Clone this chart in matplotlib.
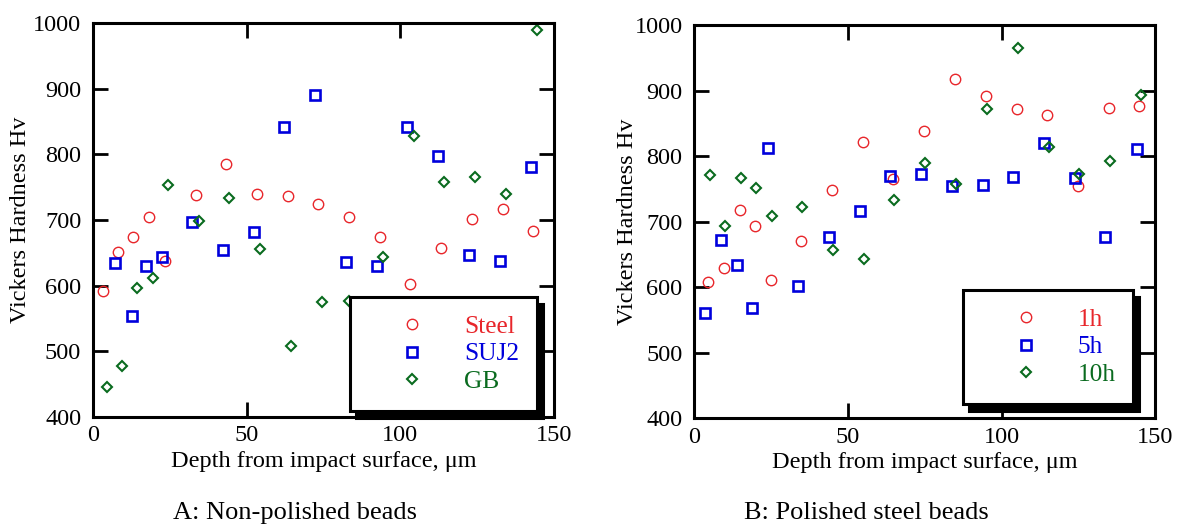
import matplotlib
matplotlib.use('Agg')
import matplotlib.pyplot as plt
from matplotlib.patches import Shadow

plt.rcParams['font.family'] = ['Liberation Serif', 'DejaVu Serif']

# A: non-polished beads (depth in um, hardness Hv)
depth_steel = [3.4, 8.2, 13.1, 18.2, 23.4, 33.4, 43.3, 53.3, 63.4, 73.3, 83.2, 93.3, 103.2, 113.2, 123.2, 133.4, 143.2]
hv_steel = [592, 652, 674, 705, 638, 738, 786, 740, 737, 724, 704, 674, 602, 657, 702, 717, 684]
depth_suj2 = [7.0, 12.6, 17.1, 22.4, 32.3, 42.2, 52.4, 62.2, 72.2, 82.3, 92.4, 102.1, 112.2, 122.4, 132.3, 142.4]
hv_suj2 = [635, 554, 630, 643, 697, 654, 682, 842, 890, 636, 630, 842, 798, 647, 637, 780]
depth_gb = [4.5, 9.5, 14.2, 19.4, 24.5, 34.4, 44.4, 54.4, 64.4, 74.4, 83.4, 94.3, 104.4, 114.3, 124.3, 134.3, 144.4]
hv_gb = [446, 478, 596, 612, 754, 698, 734, 656, 508, 575, 576, 643, 828, 758, 765, 739, 989]

# B: polished steel beads, by peening time
depth_1h = [4.6, 9.7, 14.8, 19.8, 25.0, 34.8, 44.8, 54.9, 64.8, 74.8, 84.8, 94.8, 104.9, 114.9, 124.9, 134.9, 144.8]
hv_1h = [608, 630, 718, 694, 611, 671, 748, 822, 765, 839, 918, 892, 872, 863, 754, 874, 877]
depth_5h = [3.6, 8.7, 13.8, 18.7, 23.9, 33.7, 43.7, 53.8, 63.7, 73.7, 83.9, 93.9, 103.6, 113.7, 123.9, 133.6, 144.0]
hv_5h = [560, 672, 634, 568, 813, 602, 677, 716, 770, 773, 755, 756, 768, 820, 767, 677, 811]
depth_10h = [5.2, 10.1, 15.3, 20.1, 25.2, 35.1, 45.2, 55.2, 65.1, 75.2, 85.2, 95.2, 105.3, 115.4, 125.3, 135.3, 145.4]
hv_10h = [771, 694, 767, 752, 709, 723, 656, 643, 733, 790, 758, 872, 965, 814, 773, 792, 893]

labels_a = ['Steel', 'SUJ2', 'GB']
labels_b = ['1h', '5h', '10h']

RED = '#e8262b'
BLUE = '#0000dc'
GREEN = '#0a6b1f'


def draw_series(ax, xs, ys, labels):
    ax.plot(xs[0], ys[0], 'o', ls='none', ms=7.5, mfc='none', mec=RED, mew=1.0, label=labels[0])
    ax.plot(xs[1], ys[1], 's', ls='none', ms=6.5, mfc='none', mec=BLUE, mew=1.9, label=labels[1])
    ax.plot(xs[2], ys[2], 'D', ls='none', ms=4.6, mfc='none', mec=GREEN, mew=1.5, label=labels[2])


def style_axes(ax, ylab_x):
    ax.set_xlim(0, 150)
    ax.set_ylim(400, 1000)
    ax.set_xticks([0, 50, 100, 150])
    ax.set_yticks(range(400, 1001, 100))
    ax.tick_params(direction='in', length=11, width=2, top=True, right=True, labelsize=17.5)
    ax.tick_params(axis='x', pad=6)
    ax.tick_params(axis='y', pad=8.5)
    for s in ax.spines.values():
        s.set_linewidth(2.2)
    ax.set_xlabel('Depth from impact surface, μm', fontsize=17.5, va='center')
    ax.xaxis.set_label_coords(0.5, -44 / 394)
    ax.set_ylabel('Vickers Hardness Hv', fontsize=17.5, va='center')
    ax.yaxis.set_label_coords(ylab_x, 0.5)


def add_legend(ax, anchor):
    leg = ax.legend(loc='upper left', bbox_to_anchor=anchor, borderaxespad=0,
                    fontsize=18.3, labelcolor='markeredgecolor', fancybox=False,
                    framealpha=1, edgecolor='k', handlelength=3.5, handletextpad=0.3,
                    borderpad=0.7, labelspacing=0.2, numpoints=1)
    leg.get_frame().set_linewidth(2.2)
    # solid black drop shadow, bigger than the built-in one
    sh = Shadow(leg.get_frame(), 4.3, -5, facecolor='k', edgecolor='k', alpha=1, zorder=4.9)
    sh.set_clip_on(False)
    ax.add_artist(sh)
    return leg


fig = plt.figure(figsize=(11.81, 5.29), dpi=100)
ax_a = fig.add_axes([93 / 1181, 1 - 417 / 529, 461 / 1181, 394 / 529])
ax_b = fig.add_axes([694.3 / 1181, 1 - 418.3 / 529, 461 / 1181, 393.3 / 529])

draw_series(ax_a, [depth_steel, depth_suj2, depth_gb], [hv_steel, hv_suj2, hv_gb], labels_a)
draw_series(ax_b, [depth_1h, depth_5h, depth_10h], [hv_1h, hv_5h, hv_10h], labels_b)

style_axes(ax_a, -72 / 461)
style_axes(ax_b, -67 / 461)

add_legend(ax_a, (0.5575, 0.3046))
add_legend(ax_b, (0.5835, 0.3262))

fig.text(0.2498, 0.0302, 'A: Non-polished beads', fontsize=19, ha='center', va='center')
fig.text(0.7333, 0.0302, 'B: Polished steel beads', fontsize=19, ha='center', va='center')

fig.canvas.draw()
fig.savefig('out.png', dpi=100)
